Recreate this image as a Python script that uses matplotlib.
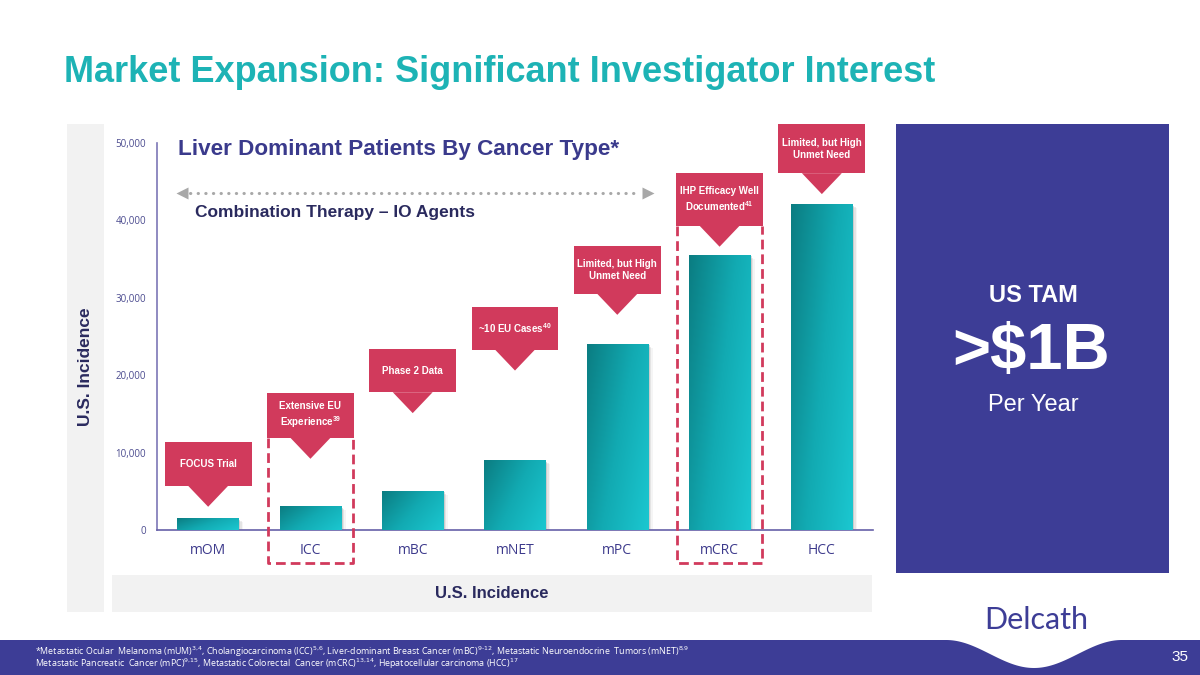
import numpy as np
import matplotlib
matplotlib.use("Agg")
import matplotlib.pyplot as plt
from matplotlib.patches import Rectangle, Polygon
from matplotlib.colors import LinearSegmentedColormap

plt.rcParams['font.family'] = ['Liberation Sans', 'DejaVu Sans']
plt.rcParams['mathtext.default'] = 'regular'

# ---------------- data ----------------
categories = ['mOM', 'ICC', 'mBC', 'mNET', 'mPC', 'mCRC', 'HCC']
incidence = [1500, 3000, 5000, 9000, 24000, 35500, 42000]
y_ticks = [0, 10000, 20000, 30000, 40000, 50000]
callout_texts = ['FOCUS Trial',
                 'Extensive EU\nExperience$^{39}$',
                 'Phase 2 Data',
                 '~10 EU Cases$^{40}$',
                 'Limited, but High\nUnmet Need',
                 'IHP Efficacy Well\nDocumented$^{41}$',
                 'Limited, but High\nUnmet Need']
dashed_categories = ['ICC', 'mCRC']

# ---------------- colours ----------------
TEAL_TITLE = '#1db3b5'
INDIGO = '#3d3d96'
CRIMSON = '#d13a5c'
NAVY = '#2a2a5e'
GRAY_BG = '#f2f2f2'

W, H = 1200, 675
fig = plt.figure(figsize=(12, 6.75), dpi=100)
fig.patch.set_facecolor('white')

# background / decoration axes in pixel coordinates
bg = fig.add_axes([0, 0, 1, 1], zorder=0)
bg.set_xlim(0, W)
bg.set_ylim(H, 0)
bg.axis('off')

bg.add_patch(Rectangle((67, 124), 37, 488, color=GRAY_BG, lw=0))
bg.add_patch(Rectangle((112, 575), 760, 37, color=GRAY_BG, lw=0))
bg.add_patch(Rectangle((896, 124), 273, 449, color=INDIGO, lw=0))

# footer band with wave
xs = np.linspace(0, W, 800)
top = np.full_like(xs, 640.0)
m = (xs >= 946) & (xs <= 1122)
top[m] = 640 + 28 * (0.5 - 0.5 * np.cos(2 * np.pi * (xs[m] - 946) / (1122 - 946)))
poly = np.vstack([np.column_stack([xs, top]), [[W, H], [0, H]]])
bg.add_patch(Polygon(poly, closed=True, color=INDIGO, lw=0))

# title
bg.text(64, 72, 'Market Expansion: Significant Investigator Interest', color=TEAL_TITLE,
        fontsize=26, fontweight='bold', ha='left', va='center')

# right panel text
bg.text(1033, 295, 'US TAM', color='white', fontsize=17, fontweight='bold', ha='center', va='center')
bg.text(1031, 352, '>$1B', color='white', fontsize=47, fontweight='bold', ha='center', va='center')
bg.text(1033, 405, 'Per Year', color='white', fontsize=17, ha='center', va='center')

# axis titles
bg.text(86, 367, 'U.S. Incidence', color=NAVY, fontsize=12.5, fontweight='bold',
        rotation=90, ha='center', va='center')
bg.text(492, 593, 'U.S. Incidence', color=NAVY, fontsize=12, fontweight='bold',
        ha='center', va='center')

# chart subtitle and arrow
bg.text(178, 149, 'Liver Dominant Patients By Cancer Type*', color='#3a3a8c', fontsize=16.2,
        fontweight='bold', ha='left', va='center')
bg.plot([190, 640], [193, 193], ls=(0, (0.1, 2.4)), lw=2.2, color='#a8a8a8',
        dash_capstyle='round')
bg.plot([182], [193], marker='<', ms=8, color='#a8a8a8', mec='none')
bg.plot([648], [193], marker='>', ms=8, color='#a8a8a8', mec='none')
bg.text(195, 213, 'Combination Therapy \u2013 IO Agents', color=NAVY, fontsize=12.5,
        fontweight='bold', ha='left', va='center')

# footer text
foot1 = (r'*Metastatic Ocular  Melanoma (mUM)$^{\text{3,4}}$, Cholangiocarcinoma (ICC)$^{\text{5,6}}$, '
         r'Liver-dominant Breast Cancer (mBC)$^{\text{9-12}}$, Metastatic Neuroendocrine  Tumors (mNET)$^{\text{8,9}}$')
foot2 = (r'Metastatic Pancreatic  Cancer (mPC)$^{\text{9,15}}$, Metastatic Colorectal  Cancer (mCRC)$^{\text{13,14}}$, '
         r'Hepatocellular carcinoma (HCC)$^{\text{17}}$')
bg.text(35, 652, foot1, color='white', fontsize=6.4, family=['Open Sans', 'DejaVu Sans'],
        ha='left', va='center')
bg.text(35, 664, foot2, color='white', fontsize=6.4, family=['Open Sans', 'DejaVu Sans'],
        ha='left', va='center')
bg.text(1180, 657, '35', color='white', fontsize=11, ha='center', va='center')

# logo
bg.text(1036, 620, 'Delcath', color=INDIGO, fontsize=22, family=['Lato', 'DejaVu Sans'],
        ha='center', va='center')

# ---------------- chart ----------------
ax = fig.add_axes([157 / W, 1 - 530 / H, (873 - 157) / W, (530 - 143) / H], zorder=1)
ax.patch.set_alpha(0)
x = np.arange(len(categories))
bar_w = 0.6
bars = ax.bar(x, incidence, width=bar_w, color='#12a9b0', zorder=3)

cmap = LinearSegmentedColormap.from_list('tg', ['#0b7d82', '#12aab2', '#1bc7d0'])
u = np.linspace(0, 1, 64)
v = np.linspace(0, 1, 64)
U, V = np.meshgrid(u, v)
grad = 0.65 * U + 0.35 * V  # V: 0 at top row (imshow origin upper)
for b in bars:
    x0, w, h = b.get_x(), b.get_width(), b.get_height()
    # soft shadow
    for k, a in enumerate([0.35, 0.2, 0.1]):
        ax.add_patch(Rectangle((x0 + 0.015 * (k + 1), 0), w, h - 150 * (k + 1),
                               color='#a0a0a0', alpha=a, lw=0, zorder=2))
    ax.imshow(grad, cmap=cmap, extent=(x0, x0 + w, 0, h), aspect='auto', zorder=3.5,
              interpolation='bilinear')

ax.set_xlim(-0.5, len(categories) - 0.5)
ax.set_ylim(0, 50000)
ax.set_yticks(y_ticks)
ax.set_yticklabels([f'{t:,}' for t in y_ticks])
ax.set_xticks(x)
ax.set_xticklabels(categories)
ax.tick_params(axis='y', length=0, pad=8, labelsize=7, labelcolor='#4b4b8f')
ax.tick_params(axis='x', length=0, pad=9, labelsize=10, labelcolor='#3d3a8c')
for lab in ax.get_xticklabels() + ax.get_yticklabels():
    lab.set_family(['Open Sans', 'DejaVu Sans'])
for s in ['top', 'right']:
    ax.spines[s].set_visible(False)
ax.spines['left'].set_color('#7d77b6')
ax.spines['left'].set_linewidth(1.2)
ax.spines['bottom'].set_color('#6660a8')
ax.spines['bottom'].set_linewidth(1.2)

# callouts (layout in data units)
box_bottom = [5700, 11900, 17800, 23300, 30500, 39300, 46100]
box_height = [5700, 5800, 5600, 5500, 6200, 6800, 6300]
half_w = 0.425
tri_hw = 0.195
tri_d = 2700
for i, (txt, bb, bh) in enumerate(zip(callout_texts, box_bottom, box_height)):
    ax.add_patch(Rectangle((i - half_w, bb), 2 * half_w, bh, color=CRIMSON, lw=0,
                           zorder=5, clip_on=False))
    ax.add_patch(Polygon([[i - tri_hw, bb + 1], [i + tri_hw, bb + 1], [i, bb - tri_d]],
                         closed=True, color=CRIMSON, lw=0, zorder=5, clip_on=False))
    ax.text(i, bb + bh / 2, txt, color='white', fontsize=7, fontweight='bold',
            ha='center', va='center', zorder=6, clip_on=False, linespacing=1.3)

# dashed boxes
dash_bottom = -4260
for c in dashed_categories:
    i = categories.index(c)
    bb = box_bottom[i]
    xl, xr = i - half_w + 0.01, i + half_w - 0.01
    ax.plot([xl, xl, xr, xr], [bb, dash_bottom, dash_bottom, bb], color=CRIMSON,
            lw=2, ls=(0, (3.5, 1.8)), zorder=4, clip_on=False)

fig.savefig('out.png', dpi=100)
